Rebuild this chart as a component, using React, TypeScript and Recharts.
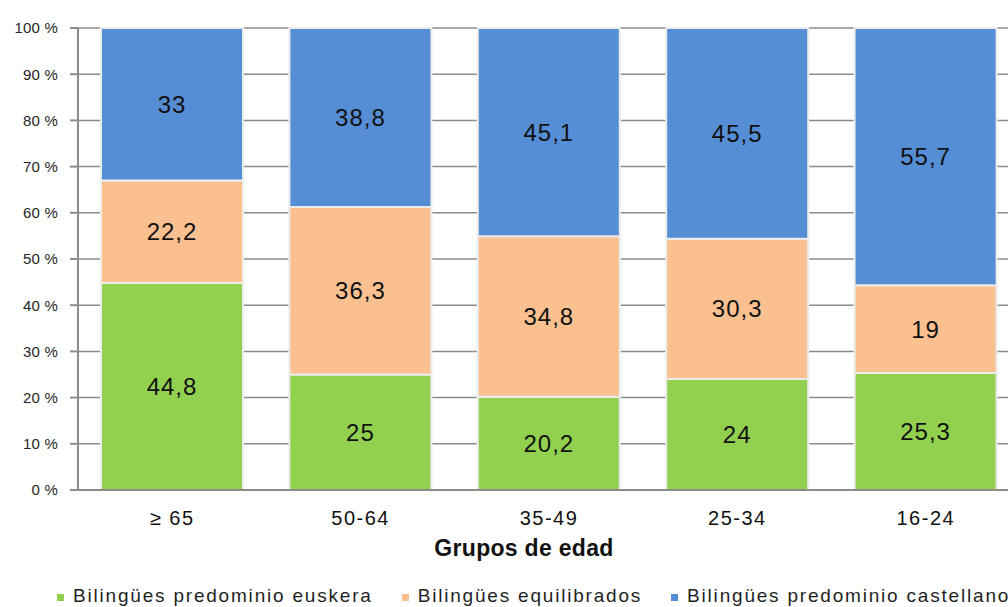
import React from "react"
import { BarChart, Bar, XAxis, YAxis, CartesianGrid, LabelList } from "recharts"

const categories = ["≥ 65", "50-64", "35-49", "25-34", "16-24"]
const euskera = [44.8, 25, 20.2, 24, 25.3]
const equilibrados = [22.2, 36.3, 34.8, 30.3, 19]
const castellano = [33, 38.8, 45.1, 45.5, 55.7]
const yTicks = [0, 10, 20, 30, 40, 50, 60, 70, 80, 90, 100]
const edgeTicks = [0, 1, 2, 3, 4, 5]

const series = [
  { key: "euskera", name: "Bilingües predominio euskera", color: "#92d050" },
  { key: "equilibrados", name: "Bilingües equilibrados", color: "#fac090" },
  { key: "castellano", name: "Bilingües predominio castellano", color: "#558ed5" },
]

const data = categories.map((grupo, i) => ({
  grupo,
  euskera: euskera[i],
  equilibrados: equilibrados[i],
  castellano: castellano[i],
}))

const axisGray = "#8c8c8c"
const font = "'Liberation Sans', Arial, sans-serif"

const formatValue = (v: number) => String(v).replace(".", ",")

const AxisTitle = (props: any) => {
  const { viewBox } = props
  return (
    <text
      x={viewBox.x + viewBox.width / 2 - 25}
      y={viewBox.y + 66}
      textAnchor="middle"
      fontFamily={font}
      fontWeight="bold"
      fontSize={23}
      letterSpacing={0.3}
      fill="#111"
    >
      Grupos de edad
    </text>
  )
}

export default function App() {
  return (
    <div
      style={{
        position: "absolute",
        left: 0,
        top: 0,
        width: 1008,
        height: 607,
        overflow: "hidden",
        background: "#fff",
      }}
    >
      <BarChart
        width={1040}
        height={607}
        data={data}
        stackOffset="expand"
        margin={{ top: 28, right: 20, left: 0, bottom: 47 }}
      >
        <CartesianGrid vertical={false} stroke={axisGray} strokeWidth={1.5} />
        {/* tick marks sit on the category boundaries, not the band centres */}
        <XAxis
          xAxisId="edges"
          type="number"
          domain={[0, 5]}
          ticks={edgeTicks}
          tick={false}
          axisLine={false}
          tickLine={{ stroke: axisGray, strokeWidth: 2 }}
          tickSize={7}
          height={0}
        />
        <XAxis
          dataKey="grupo"
          height={70}
          axisLine={{ stroke: axisGray, strokeWidth: 2 }}
          tickLine={false}
          tickSize={6}
          tickMargin={15}
          tick={{ fill: "#111", fontSize: 20, fontFamily: font, letterSpacing: 1.5 }}
          label={<AxisTitle />}
        />
        <YAxis
          width={78}
          domain={[0, 1]}
          ticks={yTicks.map((t) => t / 100)}
          tickFormatter={(v: number) => `${Math.round(v * 100)} %`}
          axisLine={{ stroke: axisGray, strokeWidth: 2 }}
          tickLine={{ stroke: axisGray, strokeWidth: 2 }}
          tickSize={8}
          tickMargin={12}
          tick={{ fill: "#262626", fontSize: 15, fontFamily: font, letterSpacing: 0.2 }}
        />
        {series.map((s) => (
          <Bar
            key={s.key}
            dataKey={s.key}
            name={s.name}
            stackId="a"
            fill={s.color}
            stroke="#ececec"
            strokeWidth={2}
            barSize={142}
            isAnimationActive={false}
          >
            <LabelList
              dataKey={s.key}
              position="center"
              formatter={formatValue}
              fill="#111"
              fontSize={24}
              fontFamily={font}
              letterSpacing={1}
            />
          </Bar>
        ))}
      </BarChart>
      <div
        style={{
          position: "absolute",
          left: 57,
          top: 585,
          display: "flex",
          alignItems: "center",
          gap: 29,
          fontFamily: font,
          fontSize: 19,
          letterSpacing: 1.8,
          color: "#1f1f1f",
          whiteSpace: "nowrap",
          lineHeight: "22px",
        }}
      >
        {series.map((s) => (
          <div key={s.key} style={{ display: "flex", alignItems: "center" }}>
            <span
              style={{
                display: "inline-block",
                width: 7,
                height: 7,
                background: s.color,
                marginRight: 9,
                marginTop: 2,
              }}
            />
            <span>{s.name}</span>
          </div>
        ))}
      </div>
    </div>
  )
}
